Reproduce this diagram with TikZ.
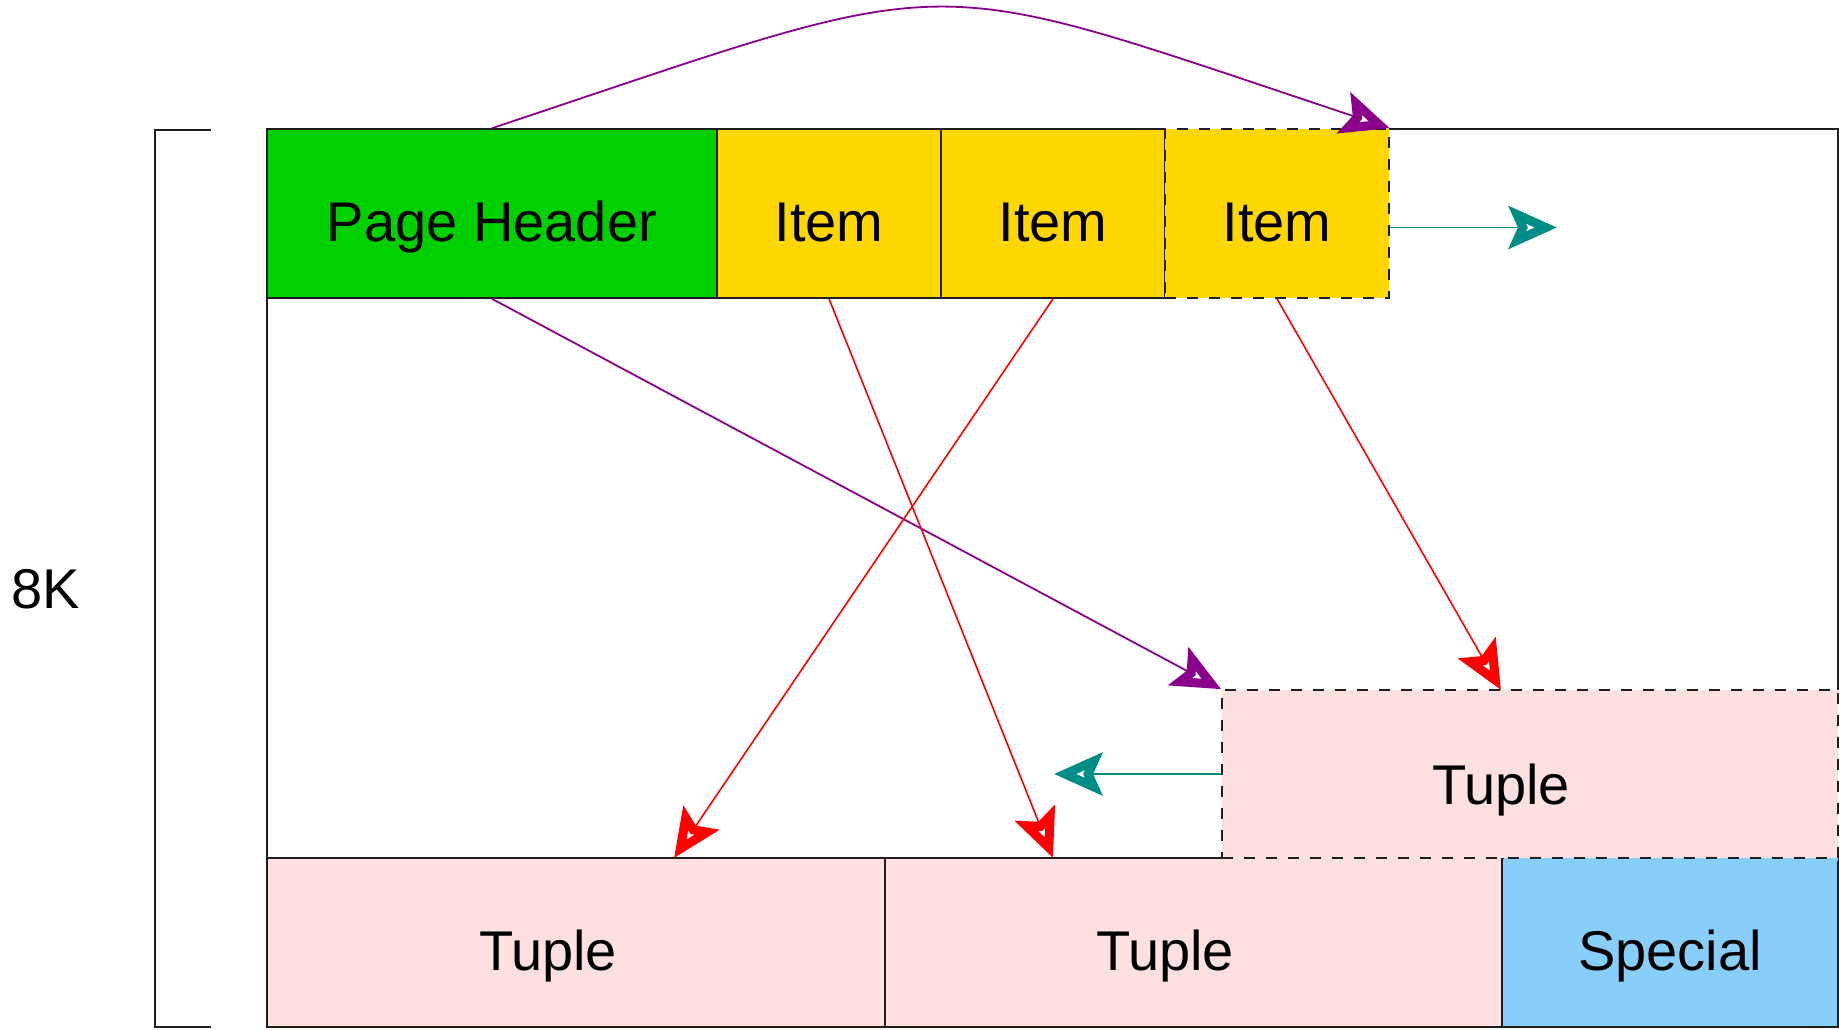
\documentclass[tikz,border=0pt]{standalone}
\usepackage{fontspec}
\setmainfont{Liberation Sans}
\usetikzlibrary{arrows.meta}
\definecolor{hdrgreen}{RGB}{0,208,0}
\definecolor{itemgold}{RGB}{255,215,0}
\definecolor{tuplepink}{RGB}{255,224,224}
\definecolor{specblue}{RGB}{135,206,250}
\definecolor{arrpurple}{RGB}{139,0,139}
\definecolor{arrteal}{RGB}{0,140,135}
\definecolor{arrred}{RGB}{255,0,0}
\definecolor{edge}{RGB}{30,30,30}
\tikzset{
  box/.style={draw=edge, line width=1.6pt, inner sep=0pt, minimum height=169pt,
    font=\fontsize{56pt}{60pt}\selectfont, text height=56pt, text depth=0pt},
  dbox/.style={box, dash pattern=on 11pt off 11pt},
  lbl/.style={inner sep=0pt, font=\fontsize{56pt}{60pt}\selectfont, text height=56pt, text depth=0pt},
  frame/.style={draw=edge, line width=1.6pt},
  tip/.style={-{Stealth[length=48pt,width=42pt,inset=9pt,open,line width=9pt]}},
  purplearr/.style={tip, draw=arrpurple, line width=1.8pt},
  redarr/.style={tip, draw=arrred, line width=1.6pt},
  tealarr/.style={tip, draw=arrteal, line width=1.8pt},
}
\begin{document}
\begin{tikzpicture}[x=1pt,y=-1pt]
\useasboundingbox (0,0) rectangle (1839,1029);
% bracket and size label
\draw[frame] (211,130) -- (155,130) -- (155,1027) -- (211,1027);
\node[lbl, text height=41pt] (size) at (46,588) {8K};
% page frame
\draw[frame] (267,298) -- (267,858);
\draw[frame] (1389,129) -- (1838,129) -- (1838,690);
% header and items
\node[box, fill=hdrgreen, minimum width=450pt] (hdr) at (492,213.5) {Page Header};
\node[box, fill=itemgold, minimum width=224pt] (i1) at (829,213.5) {Item};
\node[box, fill=itemgold, minimum width=224pt] (i2) at (1053,213.5) {Item};
\node[dbox, fill=itemgold, minimum width=224pt] (i3) at (1277,213.5) {Item};
% bottom row
\node[box, fill=tuplepink, minimum width=618pt] (t1) at (576,942.5) {};
\node[box, fill=tuplepink, minimum width=617pt] (t2) at (1193.5,942.5) {};
\node[box, fill=specblue, minimum width=336pt] (sp) at (1670,942.5) {Special};
\fill[tuplepink] (1223,855) rectangle (1501,861);
\fill[specblue] (1503.5,855) rectangle (1838,861);
\node[lbl] (t1l) at (548,942.5) {Tuple};
\node[lbl] (t2l) at (1165,942.5) {Tuple};
% new tuple
\node[dbox, fill=tuplepink, minimum width=616pt, minimum height=168pt] (tp) at (1530,774) {};
\node[lbl] (tpl) at (1501,776) {Tuple};
% target points
\coordinate (r1) at (1053,858);
\coordinate (r2) at (674,858);
\coordinate (r3) at (1501,690);
\coordinate (c1) at (1557,227.5);
\coordinate (c2) at (1054,774);
% connectors
\draw[purplearr] (hdr.north) .. controls (973,-32) and (908,-32) .. (i3.north east);
\draw[purplearr] (hdr.south) -- (tp.north west);
\draw[redarr] (i1.south) -- (r1);
\draw[redarr] (i2.south) -- (r2);
\draw[redarr] (i3.south) -- (r3);
\draw[tealarr] ([yshift=-14pt]i3.east) -- (c1);
\draw[tealarr] (tp.west) -- (c2);
\end{tikzpicture}
\end{document}
